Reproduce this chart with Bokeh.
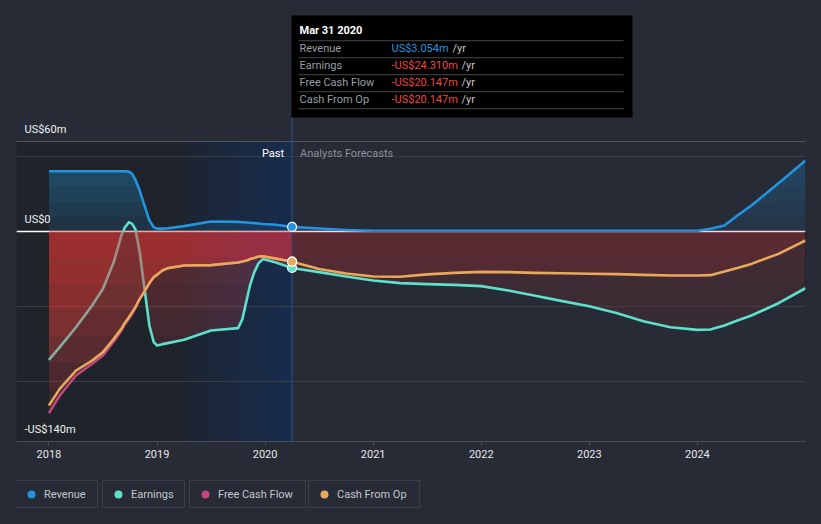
import numpy as np
from bokeh.plotting import figure
from bokeh.layouts import column
from bokeh.models import Range1d, FixedTicker, Span, Label, BoxAnnotation, Legend, LegendItem
from bokeh.core.properties import value
from bokeh.embed import file_html
from bokeh.resources import INLINE

# ---------------- data (US$ m, decimal years) ----------------
past_x = [2018.0, 2018.1, 2018.25, 2018.4, 2018.5, 2018.6, 2018.67, 2018.7, 2018.74, 2018.77,
          2018.8, 2018.84, 2018.87, 2018.93, 2018.97, 2019.0, 2019.05, 2019.1, 2019.25, 2019.5,
          2019.75, 2019.79, 2019.83, 2019.86, 2019.9, 2019.94, 2019.98, 2020.1, 2020.25]
rev_past = [40.2, 40.2, 40.2, 40.2, 40.2, 40.2, 40.2, 40.2, 39.9, 38.4,
            34.5, 27.3, 20.4, 7.3, 2.8, 1.9, 1.9, 2.2, 3.6, 6.7,
            6.4, 6.2, 6.0, 5.8, 5.6, 5.3, 5.0, 4.5, 3.054]
earn_past = [-85.6, -77.1, -63.8, -49.3, -38.2, -20.4, -2.7, 2.4, 6.2, 5.1,
             1.5, -13.8, -30.4, -63.0, -73.8, -76.0, -75.1, -74.4, -72.2, -66.0,
             -64.4, -58.4, -45.6, -36.0, -27.1, -21.1, -18.4, -20.7, -24.31]
fcf_past = [-121.1, -109.3, -96.0, -88.2, -82.7, -73.3, -66.0, -62.2, -58.2, -54.9,
            -51.1, -44.9, -41.6, -34.4, -30.4, -28.9, -26.0, -24.4, -22.7, -22.4,
            -20.7, -20.0, -19.3, -18.4, -17.6, -16.7, -16.5, -18.1, -20.147]
cfo_past = [-116.0, -104.9, -92.7, -86.0, -80.4, -71.6, -64.9, -61.1, -57.1, -53.8,
            -50.4, -44.9, -41.6, -34.4, -30.4, -28.9, -26.0, -24.4, -22.7, -22.4,
            -20.7, -20.0, -19.3, -18.4, -17.6, -16.7, -16.5, -18.1, -20.147]

fc_x = [2020.25, 2020.5, 2020.75, 2021.0, 2021.25, 2021.5, 2021.75, 2022.0, 2022.25, 2022.5,
        2022.75, 2023.0, 2023.25, 2023.5, 2023.75, 2024.0, 2024.12, 2024.25, 2024.37, 2024.5,
        2024.75, 2025.0]
rev_fc = [3.054, 2.0, 1.0, 0.5, 0.5, 0.5, 0.5, 0.5, 0.5, 0.5,
          0.5, 0.5, 0.5, 0.5, 0.5, 0.5, 1.8, 4.0, 10.7, 17.3,
          32.2, 47.3]
earn_fc = [-24.31, -27.1, -30.0, -32.7, -34.4, -35.1, -35.6, -36.4, -39.3, -42.9,
           -46.4, -49.8, -54.4, -59.8, -63.8, -65.6, -65.3, -62.7, -59.3, -56.0,
           -47.8, -37.8]
cfo_fc = [-20.147, -25.0, -28.0, -30.0, -30.2, -28.6, -27.6, -26.9, -27.1, -27.6,
          -27.8, -28.2, -28.4, -28.9, -29.3, -29.3, -29.1, -26.7, -24.4, -21.6,
          -14.9, -6.0]

year_ticks = [2018, 2019, 2020, 2021, 2022, 2023, 2024]
y_label_values = [60, 0, -140]
y_label_texts = ["US$60m", "US$0", "-US$140m"]
grid_values = [50, -50, -100]

series_names = ["Revenue", "Earnings", "Free Cash Flow", "Cash From Op"]
tooltip_date = "Mar 31 2020"
tooltip_values = ["US$3.054m", "-US$24.310m", "-US$20.147m", "-US$20.147m"]
ltm_start = 2019.25   # start of last-twelve-months highlight

# ---------------- styles ----------------
BG = "#262b36"
C_REV, C_EARN, C_FCF, C_CFO = "#2394df", "#5ee0cb", "#c4457f", "#e9a95b"
C_NEG = "#e64646"
FONT = "Roboto"

X_START, X_END = 2017.70, 2025.0
Y_MIN = -140
FRAME_H = 441
PX_PER_M = 1.5
Y_MAX = Y_MIN + FRAME_H / PX_PER_M

p = figure(width=821, height=470, output_backend="svg", toolbar_location=None,
           x_range=Range1d(X_START, X_END), y_range=Range1d(Y_MIN, Y_MAX),
           y_axis_location=None, min_border_left=16, min_border_right=16,
           min_border_top=0, min_border_bottom=29)
p.background_fill_color = BG
p.border_fill_color = BG
p.outline_line_color = None
p.xgrid.visible = False
p.ygrid.ticker = FixedTicker(ticks=grid_values)
p.ygrid.grid_line_color = "#393e49"
p.ygrid.grid_line_width = 1

ax = p.xaxis[0]
ax.ticker = FixedTicker(ticks=year_ticks)
ax.axis_line_color = "#474c57"
ax.major_tick_line_color = "#474c57"
ax.major_tick_out = 4
ax.major_tick_in = 0
ax.minor_tick_line_color = None
ax.major_label_text_color = "#e6e7ea"
ax.major_label_text_font = FONT
ax.major_label_text_font_size = "11px"
ax.major_label_standoff = 4

now_x = past_x[-1]
top_line = y_label_values[0]

# ---------------- background bands ----------------
p.quad(left=[X_START], right=[ltm_start], bottom=[Y_MIN], top=[top_line],
       fill_color="#1f232a", line_color=None, level="image")
n_strips = 24
edges = np.linspace(ltm_start, now_x, n_strips + 1)
c0 = np.array([29, 37, 51]); c1 = np.array([24, 45, 78])
cols = ["#%02x%02x%02x" % tuple(int(round(v)) for v in c0 + (c1 - c0) * t)
        for t in np.linspace(0, 1, n_strips)]
p.quad(left=edges[:-1], right=edges[1:], bottom=[Y_MIN] * n_strips, top=[top_line] * n_strips,
       fill_color=cols, line_color=cols, line_width=0.5, level="image")

p.add_layout(Span(location=top_line, dimension="width", line_color="#4f5460", line_width=1, level="underlay"))
p.add_layout(Span(location=0, dimension="width", line_color="#ffffff", line_width=1.3, level="underlay"))

# ---------------- fills and lines ----------------
def neg_fill(xs, vs, beta, K=8):
    v = np.minimum(np.asarray(vs, float), 0)
    z = np.zeros_like(v)
    for k in range(K):
        L = (k + 1) * (-Y_MIN) / K
        p.varea(x=xs, y1=z, y2=np.maximum(v, -L), fill_color=C_NEG, fill_alpha=beta)

def pos_fill(xs, vs, base, beta):
    v = np.maximum(np.asarray(vs, float), 0)
    p.varea(x=xs, y1=np.zeros_like(v), y2=v, fill_color=C_REV, fill_alpha=base)
    for L in (10, 20, 30, 40):
        p.varea(x=xs, y1=np.minimum(v, L), y2=v, fill_color=C_REV, fill_alpha=beta)

BETA_PAST, BETA_FC = 0.042, 0.018
lw = 2.6

pos_fill(past_x, rev_past, 0.15, 0.08)
pos_fill(fc_x, rev_fc, 0.10, 0.055)
p.line(past_x + fc_x[1:], rev_past + rev_fc[1:], line_color=C_REV, line_width=lw, line_join="round")

neg_fill(past_x, earn_past, BETA_PAST)
neg_fill(fc_x, earn_fc, BETA_FC)
p.line(past_x + fc_x[1:], earn_past + earn_fc[1:], line_color=C_EARN, line_width=lw, line_join="round")

neg_fill(past_x, fcf_past, BETA_PAST)
p.line(past_x, fcf_past, line_color=C_FCF, line_width=lw, line_join="round")

neg_fill(past_x, cfo_past, BETA_PAST)
neg_fill(fc_x, cfo_fc, BETA_FC)
p.line(past_x + fc_x[1:], cfo_past + cfo_fc[1:], line_color=C_CFO, line_width=lw, line_join="round")

# ---------------- hover crosshair + tooltip ----------------
TIP_L, TIP_R, TIP_T, TIP_B = 275, 616, 426, 324     # screen px from frame bottom-left
tip_bottom_val = Y_MIN + TIP_B / PX_PER_M
p.segment(x0=[now_x], y0=[Y_MIN], x1=[now_x], y1=[tip_bottom_val], line_color="#34527e", line_width=1)

for yv, c in zip([rev_past[-1], earn_past[-1], fcf_past[-1], cfo_past[-1]], [C_REV, C_EARN, C_FCF, C_CFO]):
    p.scatter(x=[now_x], y=[yv], size=9, fill_color=c, line_color="#ffffff", line_width=1.2)

p.add_layout(Label(x=now_x, y=288, x_units="data", y_units="screen", x_offset=-8, text="Past",
                   text_align="right", text_baseline="middle", text_font=FONT,
                   text_font_size="11px", text_color="#ffffff"))
p.add_layout(Label(x=now_x, y=288, x_units="data", y_units="screen", x_offset=8, text="Analysts Forecasts",
                   text_align="left", text_baseline="middle", text_font=FONT,
                   text_font_size="11px", text_color="#8b9099"))

p.text(x=[X_START] * len(y_label_values), y=y_label_values, text=y_label_texts,
       x_offset=8, y_offset=-12, text_align="left", text_baseline="middle",
       text_font=value(FONT), text_font_size="11px", text_color="#f0f0f0")

p.add_layout(BoxAnnotation(left=TIP_L, right=TIP_R, top=TIP_T, bottom=TIP_B,
                           left_units="screen", right_units="screen", top_units="screen", bottom_units="screen",
                           fill_color="#000000", fill_alpha=1, line_color=None))
for sy in [400.7, 383.7, 366.7, 349.7, 332.7]:
    p.add_layout(BoxAnnotation(left=TIP_L + 7, right=TIP_R - 9, top=sy + 0.5, bottom=sy - 0.5,
                               left_units="screen", right_units="screen", top_units="screen", bottom_units="screen",
                               fill_color="#4a4a4a", fill_alpha=1, line_color=None))
p.add_layout(Label(x=TIP_L + 8, y=411, x_units="screen", y_units="screen", text=tooltip_date,
                   text_align="left", text_baseline="middle", text_font=FONT, text_font_size="11px",
                   text_font_style="bold", text_color="#ffffff"))
row_y = [392.7, 375.8, 359.0, 342.3]
val_colors = ["#2394df", "#ef4444", "#ef4444", "#ef4444"]
yr_x = [436, 445, 445, 445]
for name, val, vc, ry, yx in zip(series_names, tooltip_values, val_colors, row_y, yr_x):
    p.add_layout(Label(x=TIP_L + 8, y=ry, x_units="screen", y_units="screen", text=name,
                       text_align="left", text_baseline="middle", text_font=FONT, text_font_size="11px",
                       text_color="#9a9ea5"))
    p.add_layout(Label(x=TIP_L + 100, y=ry, x_units="screen", y_units="screen", text=val,
                       text_align="left", text_baseline="middle", text_font=FONT, text_font_size="11px",
                       text_color=vc))
    p.add_layout(Label(x=yx, y=ry, x_units="screen", y_units="screen", text="/yr",
                       text_align="left", text_baseline="middle", text_font=FONT, text_font_size="11px",
                       text_color="#c8c8c8"))

# ---------------- legend strip (one bordered box per series) ----------------
lp = figure(width=821, height=54, output_backend="svg", toolbar_location=None,
            x_range=Range1d(0, 1), y_range=Range1d(0, 1),
            x_axis_location=None, y_axis_location=None,
            min_border_left=0, min_border_right=0, min_border_top=0, min_border_bottom=0)
lp.background_fill_color = BG
lp.border_fill_color = BG
lp.outline_line_color = None
lp.grid.visible = False

leg_x = [-1, 86, 173, 292]
leg_label_w = [50, 50, 84, 79]
for name, c, lx, lwid in zip(series_names, [C_REV, C_EARN, C_FCF, C_CFO], leg_x, leg_label_w):
    r = lp.scatter(x=[np.nan], y=[np.nan], size=8, fill_color=c, line_color=None)
    leg = Legend(items=[LegendItem(label=name, renderers=[r])], location=(lx, 16),
                 orientation="horizontal", padding=3, margin=0, spacing=0,
                 glyph_width=24, glyph_height=20, label_standoff=1, label_width=lwid,
                 label_text_font=FONT, label_text_font_size="11px", label_text_color="#c3c6cc",
                 background_fill_color=BG, background_fill_alpha=1,
                 border_line_color="#4b515c", border_line_width=1)
    lp.add_layout(leg)

page = column(p, lp, spacing=0)
html = file_html(page, INLINE)
html = html.replace("</head>", "<style>html,body{margin:0;padding:0;background:#262b36;}</style></head>", 1)
open("out.html", "w").write(html)
